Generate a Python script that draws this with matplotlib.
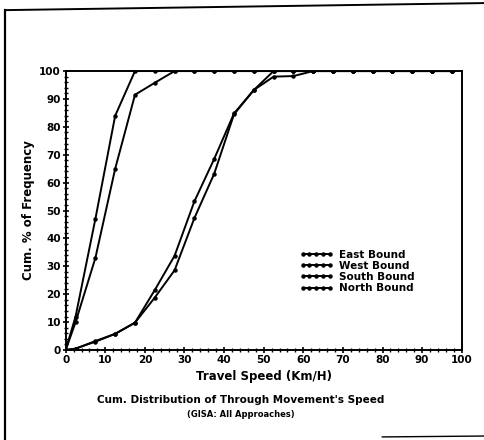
import matplotlib
matplotlib.use('Agg')
import matplotlib.pyplot as plt
from matplotlib.lines import Line2D
from matplotlib.ticker import MultipleLocator

# speed bins (mid points, km/h) and cumulative % per approach
speed = [0, 2.5, 7.5, 12.5, 17.5, 22.5, 27.5, 32.5, 37.5, 42.5, 47.5,
         52.5, 57.5, 62.5, 67.5, 72.5, 77.5, 82.5, 87.5, 92.5, 97.5]
east = [0, 12, 47, 84, 100, 100, 100, 100, 100, 100, 100,
        100, 100, 100, 100, 100, 100, 100, 100, 100, 100]
west = [0, 10, 33, 65, 91.5, 95.8, 100, 100, 100, 100, 100,
        100, 100, 100, 100, 100, 100, 100, 100, 100, 100]
south = [0, 0.5, 3, 5.8, 9.8, 21.5, 33.8, 53.3, 68.5, 84.8, 93.2,
         100, 100, 100, 100, 100, 100, 100, 100, 100, 100]
north = [0, 0.5, 3.2, 5.8, 9.8, 18.8, 28.6, 47.3, 63.2, 84.5, 93.2,
         98, 98.2, 100, 100, 100, 100, 100, 100, 100, 100]
names = ['East Bound', 'West Bound', 'South Bound', 'North Bound']

plt.rcParams['font.family'] = ['DejaVu Sans']
plt.rcParams['font.weight'] = 'bold'

fig = plt.figure(figsize=(4.84, 4.4), dpi=100)
ax = fig.add_axes([0.1357, 0.2045, 0.8183, 0.634])

for y, lab in zip([east, west, south, north], names):
    ax.plot(speed, y, color='black', lw=1.4, marker='o', ms=2.2,
            label=lab)

ax.set_xlim(0, 100)
ax.set_ylim(0, 100)
ax.xaxis.set_major_locator(MultipleLocator(10))
ax.yaxis.set_major_locator(MultipleLocator(10))
ax.xaxis.set_minor_locator(MultipleLocator(2))
ax.yaxis.set_minor_locator(MultipleLocator(2))
ax.tick_params(which='major', direction='inout', length=5, width=1.2,
               labelsize=7.5, pad=1)
ax.tick_params(which='minor', direction='inout', length=3, width=1.0)
for lbl in ax.get_xticklabels() + ax.get_yticklabels():
    lbl.set_fontweight('bold')
for s in ax.spines.values():
    s.set_linewidth(1.4)

ax.set_xlabel('Travel Speed (Km/H)', fontsize=8.5, fontweight='bold',
              labelpad=4)
ax.set_ylabel('Cum. % of Frequency', fontsize=8.5, fontweight='bold',
              labelpad=3)

leg = ax.legend(loc='upper left', bbox_to_anchor=(0.58, 0.375),
                frameon=False, fontsize=7.5, numpoints=5, handlelength=3.2,
                handletextpad=0.6, labelspacing=0.12, borderaxespad=0)

fig.text(0.497, 0.092, "Cum. Distribution of Through Movement's Speed",
         ha='center', va='center', fontsize=7.5)
fig.text(0.497, 0.059, '(GISA: All Approaches)', ha='center',
         va='center', fontsize=6)

# outer frame of the scanned page
fig.add_artist(Line2D([0.011, 0.011], [0.0, 0.977], color='black', lw=1.6))
fig.add_artist(Line2D([0.011, 1.0], [0.977, 0.993], color='black', lw=1.4))
fig.add_artist(Line2D([0.79, 1.0], [0.007, 0.009], color='black', lw=1.0))

fig.savefig('out.png', dpi=100)
